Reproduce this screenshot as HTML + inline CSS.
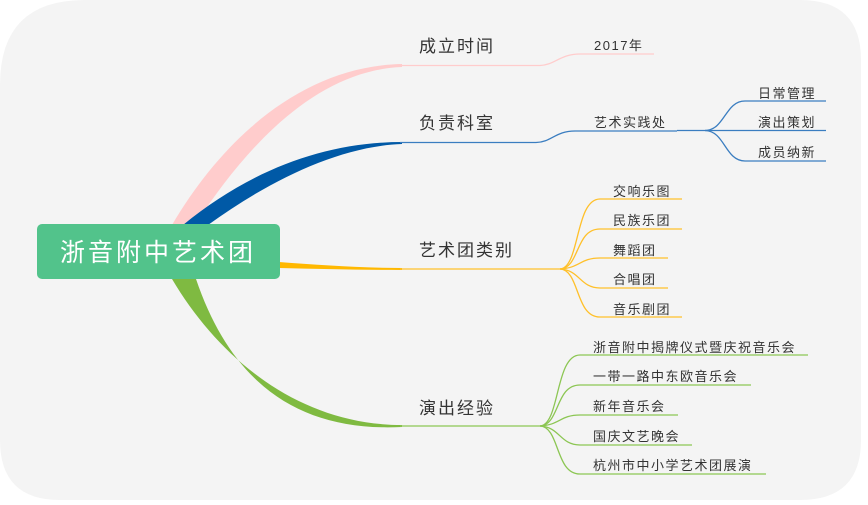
<!DOCTYPE html>
<html><head><meta charset="utf-8"><style>
html,body{margin:0;padding:0;background:#fff;}
svg{display:block;}
text{font-family:"Liberation Sans","Noto Sans CJK SC",sans-serif;fill:#333;}
</style></head><body>
<svg width="868" height="505" viewBox="0 0 868 505" xmlns="http://www.w3.org/2000/svg">
<path d="M85,0 H800 Q861,0 861,60 V440 Q861,500 800,500 H60 Q0,500 0,440 V85 Q0,0 85,0 Z" fill="#f4f4f4"/>
<path d="M172,225 C225,135 305,66 402,64 L402,67 C320,70 250,140 195,225 Z" fill="#ffcccc"/>
<path d="M183,225 C250,170 325,142 402,142 L402,144 C340,146 270,180 208,225 Z" fill="#0059a6"/>
<path d="M279,262 C320,265 360,268 402,268 L402,270 C360,270 320,269 279,268 Z" fill="#ffb800"/>
<path d="M172,279 C220,360 300,425 402,425 L402,427 C300,432 232,385 196,279 Z" fill="#7fba41"/>
<g fill="none" stroke="#ffcccc" stroke-width="1.3">
<path d="M400,65.5 H540 C555,65 560,54 580,54 H654"/>
</g>
<g fill="none" stroke="#3a7dc0" stroke-width="1.3">
<path d="M400,142.5 H536 C552,142 555,131 575,131 H677"/>
<path d="M677,130.5 H705 C725,130 725,101 745,101 H826"/>
<path d="M705,130.5 H826"/>
<path d="M705,130.5 C725,131 725,161 745,161 H826"/>
</g>
<g fill="none" stroke="#ffc02a" stroke-width="1.3">
<path d="M400,269 H560"/>
<path d="M560,269 C580,268 575,199 600,199 H682"/>
<path d="M560,269 C580,268 575,229 600,229 H682"/>
<path d="M560,269 C580,268 580,258 600,258 H668"/>
<path d="M560,269 C580,270 580,288 600,288 H668"/>
<path d="M560,269 C580,270 575,317 600,317 H682"/>
</g>
<g fill="none" stroke="#8cc653" stroke-width="1.3">
<path d="M400,426 H540"/>
<path d="M540,426 C560,425 555,355 580,355 H808"/>
<path d="M540,426 C560,425 555,385 580,385 H751"/>
<path d="M540,426 C560,425 560,415 580,415 H678"/>
<path d="M540,426 C560,427 560,445 580,445 H692"/>
<path d="M540,426 C560,427 555,474 580,474 H766"/>
</g>
<rect x="37" y="224" width="243" height="55" rx="5" fill="#52c38b"/>
<text x="158" y="261" font-size="25" letter-spacing="3" text-anchor="middle" style="fill:#fff">浙音附中艺术团</text>
<g font-size="17" letter-spacing="2">
<text x="419" y="52">成立时间</text>
<text x="419" y="129">负责科室</text>
<text x="419" y="256">艺术团类别</text>
<text x="419" y="414">演出经验</text>
</g>
<g font-size="13" letter-spacing="1.5">
<text x="594" y="50">2017年</text>
<text x="594" y="127">艺术实践处</text>
<text x="758" y="98">日常管理</text>
<text x="758" y="127">演出策划</text>
<text x="758" y="157">成员纳新</text>
<text x="613" y="196">交响乐图</text>
<text x="613" y="225">民族乐团</text>
<text x="613" y="255">舞蹈团</text>
<text x="613" y="284">合唱团</text>
<text x="613" y="314">音乐剧团</text>
<text x="593" y="352">浙音附中揭牌仪式暨庆祝音乐会</text>
<text x="593" y="381">一带一路中东欧音乐会</text>
<text x="593" y="411">新年音乐会</text>
<text x="593" y="441">国庆文艺晚会</text>
<text x="593" y="470">杭州市中小学艺术团展演</text>
</g>
</svg>
</body></html>
